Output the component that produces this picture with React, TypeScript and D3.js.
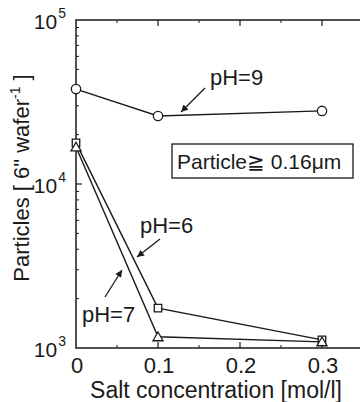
import React, { useEffect, useRef } from 'react';
import * as d3 from 'd3';

const salt = [0, 0.1, 0.3];
const ph9 = [37900, 26000, 27900];
const ph6 = [17800, 1750, 1120];
const ph7 = [16800, 1170, 1090];
const xTicks = [0, 0.1, 0.2, 0.3];
const xMinor = [0.05, 0.15, 0.25];
const yDecades = [3, 4, 5];

const App = () => {
  const svgRef = useRef(null);

  useEffect(() => {
    const width = 360;
    const height = 402;
    const margin = { top: 20, right: -3, bottom: 54, left: 76 };
    const font = 'Liberation Sans, Arial, Helvetica, sans-serif';
    const ink = '#1a1a1a';

    const svg = d3.select(svgRef.current)
      .attr('width', width)
      .attr('height', height)
      .style('background', '#ffffff')
      .style('display', 'block');
    svg.selectAll('*').remove();

    const x = d3.scaleLinear()
      .domain([0, 0.35])
      .range([margin.left, width - margin.right]);
    const y = d3.scaleLog()
      .domain([1e3, 1e5])
      .range([height - margin.bottom, margin.top]);

    const x0 = x(0);
    const yb = y(1e3);
    const yt = y(1e5);

    // frame (left, bottom, top)
    svg.append('path')
      .attr('d', `M${width},${yt}H${x0}V${yb}H${width}`)
      .attr('fill', 'none')
      .attr('stroke', ink)
      .attr('stroke-width', 1.5);

    // y ticks, inward
    const minorY = [];
    for (let e = 3; e < 5; e++) {
      for (let m = 2; m <= 9; m++) minorY.push(m * Math.pow(10, e));
    }
    svg.selectAll('.ymin').data(minorY).enter().append('line')
      .attr('x1', x0).attr('x2', x0 + 3)
      .attr('y1', d => y(d)).attr('y2', d => y(d))
      .attr('stroke', ink).attr('stroke-width', 1);
    svg.selectAll('.ymaj').data([1e4]).enter().append('line')
      .attr('x1', x0).attr('x2', x0 + 6)
      .attr('y1', d => y(d)).attr('y2', d => y(d))
      .attr('stroke', ink).attr('stroke-width', 1.2);

    // x ticks, bottom and top
    [yb, yt].forEach((yy, k) => {
      const dir = k === 0 ? -1 : 1;
      svg.append('g').selectAll('line').data(xTicks.slice(1)).enter().append('line')
        .attr('x1', d => x(d)).attr('x2', d => x(d))
        .attr('y1', yy).attr('y2', yy + dir * 6)
        .attr('stroke', ink).attr('stroke-width', 1.2);
      svg.append('g').selectAll('line').data(xMinor).enter().append('line')
        .attr('x1', d => x(d)).attr('x2', d => x(d))
        .attr('y1', yy).attr('y2', yy + dir * 3)
        .attr('stroke', ink).attr('stroke-width', 1);
    });

    // y tick labels 10^n
    yDecades.forEach(e => {
      const t = svg.append('text')
        .attr('x', x0 - 10)
        .attr('y', y(Math.pow(10, e)) + 9)
        .attr('text-anchor', 'end')
        .attr('font-family', font)
        .attr('font-size', 21)
        .attr('fill', ink);
      t.append('tspan').text('10');
      t.append('tspan').attr('font-size', 14).attr('dy', -11).attr('dx', 1).text(String(e));
    });

    // x tick labels
    svg.selectAll('.xl').data(xTicks).enter().append('text')
      .attr('x', d => x(d) + 1)
      .attr('y', yb + 25)
      .attr('text-anchor', 'middle')
      .attr('font-family', font)
      .attr('font-size', 22)
      .attr('fill', ink)
      .text(d => (d === 0 ? '0' : d3.format('.1f')(d)));

    // axis titles
    svg.append('text')
      .attr('x', 216)
      .attr('y', 398)
      .attr('text-anchor', 'middle')
      .attr('font-family', font)
      .attr('font-size', 23)
      .attr('fill', ink)
      .text('Salt concentration [mol/l]');

    const yl = svg.append('text')
      .attr('transform', 'translate(29,178) rotate(-90)')
      .attr('text-anchor', 'middle')
      .attr('font-family', font)
      .attr('font-size', 22)
      .attr('fill', ink);
    yl.append('tspan').text('Particles [ 6" wafer');
    yl.append('tspan').attr('font-size', 14).attr('dy', -9).text('-1');
    yl.append('tspan').attr('dy', 9).text(' ]');

    // series
    const series = [
      { vals: ph9, shape: 'circle' },
      { vals: ph6, shape: 'square' },
      { vals: ph7, shape: 'triangle' },
    ];
    const line = d3.line()
      .x((d, i) => x(salt[i]))
      .y(d => y(d));

    series.forEach(s => {
      svg.append('path')
        .datum(s.vals)
        .attr('fill', 'none')
        .attr('stroke', ink)
        .attr('stroke-width', 1.4)
        .attr('d', line);
    });

    const symbolOf = { circle: d3.symbolCircle, square: d3.symbolSquare, triangle: d3.symbolTriangle };
    const sizeOf = { circle: 68, square: 56, triangle: 44 };
    series.forEach(s => {
      svg.append('g').selectAll('path').data(s.vals).enter().append('path')
        .attr('transform', (d, i) => `translate(${x(salt[i])},${y(d) + (s.shape === 'triangle' ? 1 : 0)})`)
        .attr('d', d3.symbol().type(symbolOf[s.shape]).size(sizeOf[s.shape]))
        .attr('fill', '#ffffff')
        .attr('stroke', ink)
        .attr('stroke-width', 1.3);
    });

    // annotations
    const defs = svg.append('defs');
    defs.append('marker')
      .attr('id', 'ah')
      .attr('viewBox', '0 0 10 10')
      .attr('refX', 10).attr('refY', 5)
      .attr('markerWidth', 10).attr('markerHeight', 7)
      .attr('markerUnits', 'userSpaceOnUse')
      .attr('orient', 'auto')
      .append('path')
      .attr('d', 'M0,0L10,5L0,10Z')
      .attr('fill', ink);

    const notes = [
      { label: 'pH=9', tx: 210, ty: 85, a: [205, 88, 181, 112] },
      { label: 'pH=6', tx: 140, ty: 233, a: [160, 239, 137, 257] },
      { label: 'pH=7', tx: 82, ty: 322, a: [105, 297, 122, 270] },
    ];
    notes.forEach(n => {
      svg.append('text')
        .attr('x', n.tx).attr('y', n.ty)
        .attr('font-family', font)
        .attr('font-size', 22)
        .attr('fill', ink)
        .text(n.label);
      svg.append('line')
        .attr('x1', n.a[0]).attr('y1', n.a[1])
        .attr('x2', n.a[2]).attr('y2', n.a[3])
        .attr('stroke', ink)
        .attr('stroke-width', 1.3)
        .attr('marker-end', 'url(#ah)');
    });

    svg.append('rect')
      .attr('x', 172).attr('y', 144)
      .attr('width', 181).attr('height', 34)
      .attr('fill', '#ffffff')
      .attr('stroke', ink)
      .attr('stroke-width', 1.3);
    svg.append('text')
      .attr('x', 177).attr('y', 169)
      .attr('font-family', font)
      .attr('font-size', 21)
      .attr('fill', ink)
      .text('Particle≧ 0.16μm');
  }, []);

  return <svg ref={svgRef} style={{ position: 'absolute', left: 0, top: 0 }}></svg>;
};

export default App;
